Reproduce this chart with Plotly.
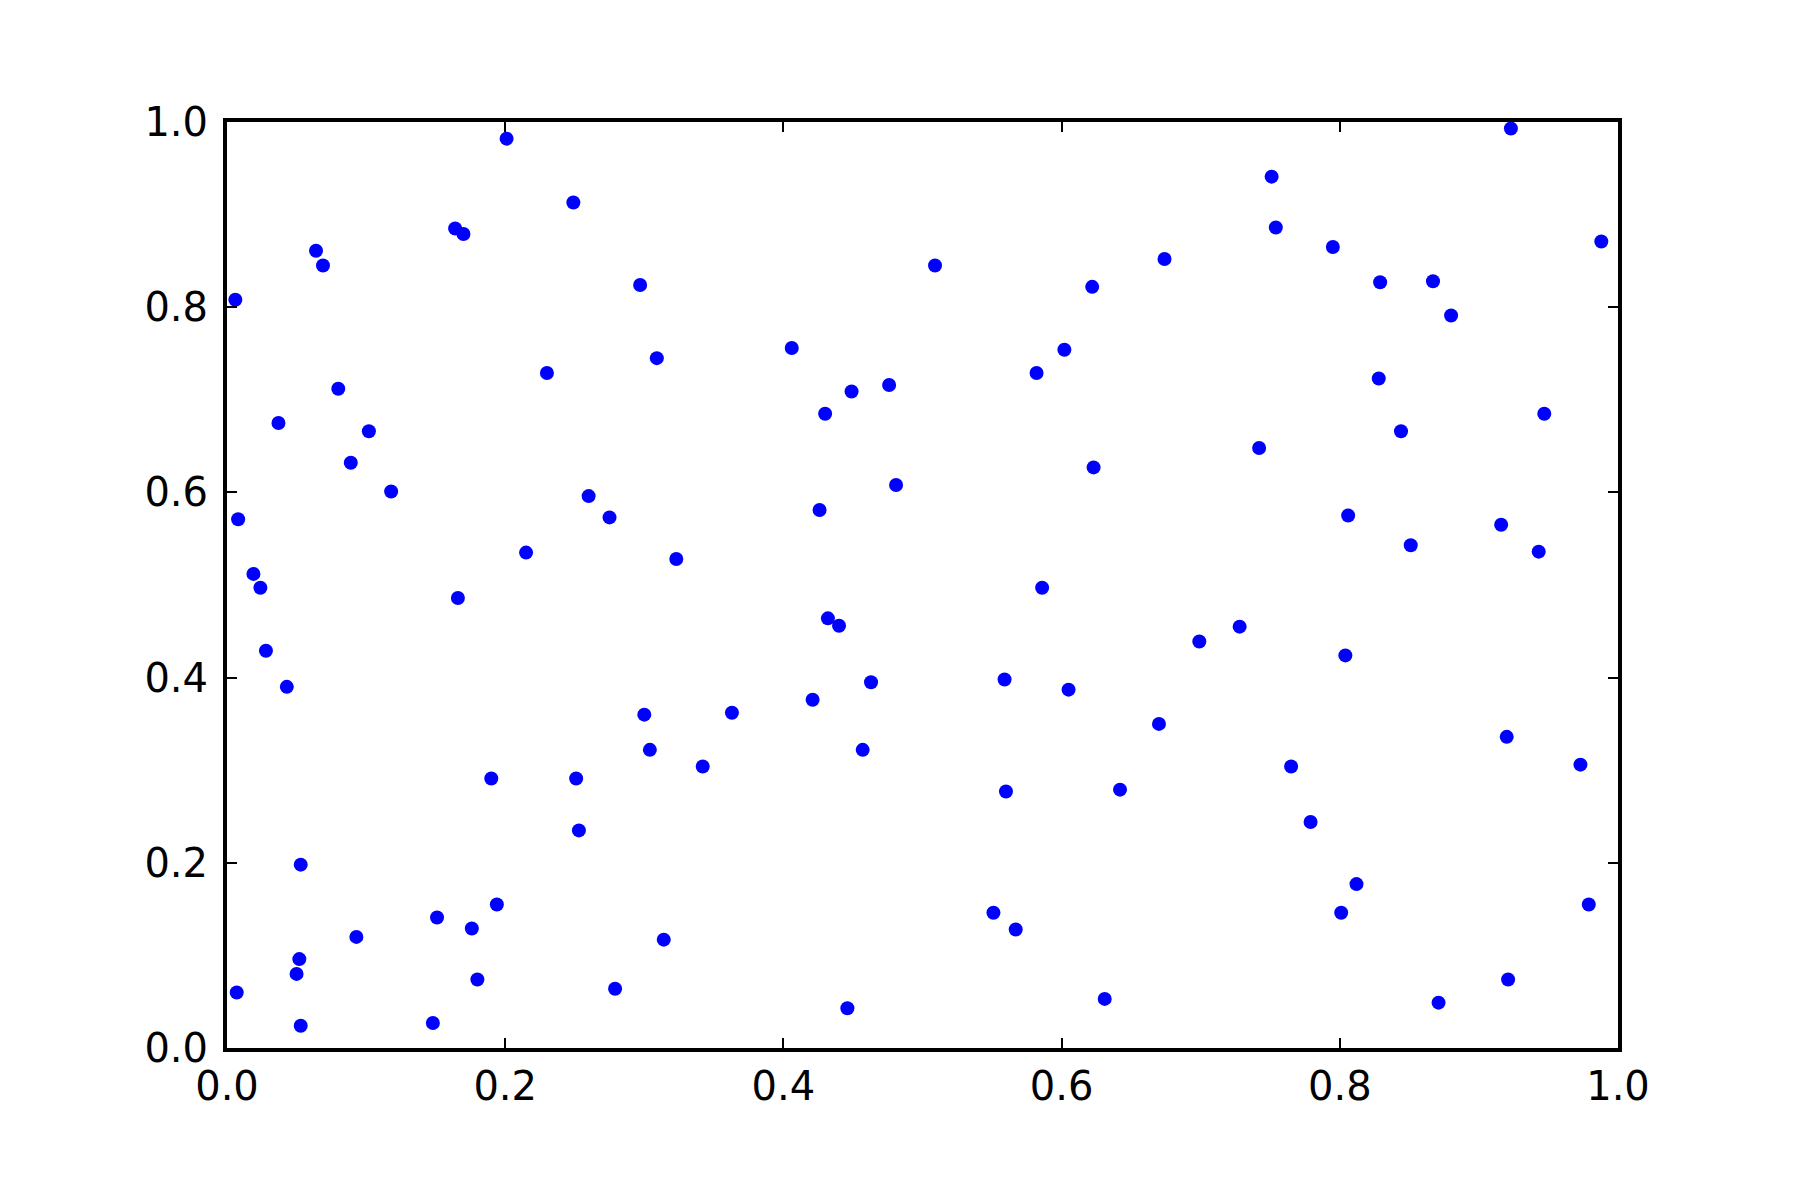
import plotly.graph_objects as go

x_vals = [0.006, 0.008, 0.007, 0.019, 0.024, 0.028, 0.037, 0.043, 0.053, 0.052,
          0.050, 0.053, 0.064, 0.069, 0.080, 0.089, 0.093, 0.102, 0.118, 0.148,
          0.151, 0.164, 0.170, 0.166, 0.176, 0.180, 0.190, 0.194, 0.201, 0.215,
          0.230, 0.249, 0.251, 0.253, 0.260, 0.275, 0.279, 0.297, 0.300, 0.304,
          0.309, 0.314, 0.323, 0.342, 0.363, 0.406, 0.421, 0.426, 0.430, 0.432,
          0.440, 0.446, 0.449, 0.457, 0.463, 0.476, 0.481, 0.509, 0.551, 0.559,
          0.560, 0.567, 0.582, 0.586, 0.602, 0.605, 0.622, 0.623, 0.631, 0.642,
          0.670, 0.674, 0.699, 0.728, 0.742, 0.751, 0.754, 0.765, 0.779, 0.795,
          0.801, 0.804, 0.806, 0.812, 0.828, 0.829, 0.844, 0.851, 0.867, 0.871,
          0.880, 0.916, 0.920, 0.921, 0.923, 0.943, 0.947, 0.973, 0.979, 0.988]

y_vals = [0.808, 0.571, 0.060, 0.512, 0.497, 0.429, 0.675, 0.390, 0.198, 0.096,
          0.080, 0.024, 0.861, 0.845, 0.712, 0.632, 0.120, 0.666, 0.601, 0.027,
          0.141, 0.885, 0.879, 0.486, 0.129, 0.074, 0.291, 0.155, 0.982, 0.535,
          0.729, 0.913, 0.291, 0.235, 0.596, 0.573, 0.064, 0.824, 0.360, 0.322,
          0.745, 0.117, 0.528, 0.304, 0.362, 0.756, 0.376, 0.581, 0.685, 0.464,
          0.456, 0.043, 0.709, 0.322, 0.395, 0.716, 0.608, 0.845, 0.146, 0.398,
          0.277, 0.128, 0.729, 0.497, 0.754, 0.387, 0.822, 0.627, 0.053, 0.279,
          0.350, 0.852, 0.439, 0.455, 0.648, 0.941, 0.886, 0.304, 0.244, 0.865,
          0.146, 0.424, 0.575, 0.177, 0.723, 0.827, 0.666, 0.543, 0.828, 0.049,
          0.791, 0.565, 0.336, 0.074, 0.993, 0.536, 0.685, 0.306, 0.155, 0.871]

tick_vals = [0.0, 0.2, 0.4, 0.6, 0.8, 1.0]
tick_text = ["0.0", "0.2", "0.4", "0.6", "0.8", "1.0"]

fig = go.Figure(go.Scatter(
    x=x_vals, y=y_vals, mode="markers",
    marker=dict(color="#0000ff", size=14, line=dict(width=0)),
    cliponaxis=False,
))

axis_common = dict(
    range=[0, 1], tickvals=tick_vals, ticktext=tick_text,
    showgrid=False, zeroline=False, showline=True, linecolor="black",
    linewidth=4, mirror="ticks", ticks="inside", ticklen=10, tickwidth=2,
    tickcolor="black", tickfont=dict(family="DejaVu Sans", size=40, color="black"),
)

fig.update_layout(
    width=1784, height=1184,
    margin=dict(l=219, r=174, t=114, b=144),
    paper_bgcolor="white", plot_bgcolor="white",
    showlegend=False,
    xaxis=dict(**axis_common, ticklabelstandoff=0),
    yaxis=dict(**axis_common, ticklabelstandoff=7),
)

fig.write_html("out.html")
